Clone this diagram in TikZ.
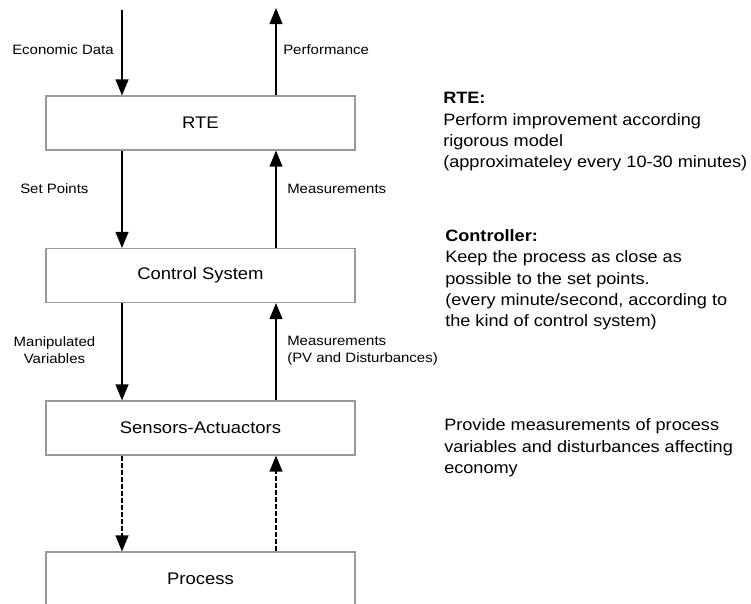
\documentclass[tikz,border=0pt]{standalone}
\usepackage{fontspec}
\setmainfont{Liberation Sans}[FakeStretch=1.1]
\usetikzlibrary{arrows.meta}
\begin{document}
\begin{tikzpicture}[x=0.75pt,y=-0.75pt,
  blk/.style={draw=black!40,line width=0.8pt,minimum width=231.75pt,minimum height=40.5pt,inner sep=0pt,font=\fontsize{12.6}{15}\selectfont},
  lbl/.style={inner sep=0pt,font=\fontsize{10.2}{12.75}\selectfont},
  note/.style={inner sep=0pt,align=left,font=\fontsize{12.35}{16}\selectfont},
  arr/.style={line width=1.5pt,-{Triangle[length=12pt,width=9.5pt]}},
  darr/.style={arr,dash pattern=on 3.75pt off 1.5pt}]
\useasboundingbox (0,0) rectangle (751,604);
\clip (0,0) rectangle (751,604);
\node[blk] (rte) at (200.5,123) {RTE};
\node[blk] (ctl) at (200.5,275.5) {Control System};
\node[blk] (sa) at (200.5,428) {Sensors-Actuactors};
\node[blk] (proc) at (200.5,579) {Process};
\coordinate (ein) at (122,10);
\coordinate (pout) at (276,8);
\coordinate (L) at (122,0);
\coordinate (R) at (276,0);
\draw[arr] (ein) -- (ein |- rte.north);
\draw[arr] (rte.north -| pout) -- (pout);
\draw[arr] (rte.south -| L) -- (ctl.north -| L);
\draw[arr] (ctl.north -| R) -- (rte.south -| R);
\draw[arr] (ctl.south -| L) -- (sa.north -| L);
\draw[arr] (sa.north -| R) -- (ctl.south -| R);
\draw[darr] (sa.south -| L) -- (proc.north -| L);
\draw[darr] (proc.north -| R) -- (sa.south -| R);
\node[lbl,anchor=west] (econ) at (12,50) {Economic Data};
\node[lbl,anchor=west] (perf) at (283,50) {Performance};
\node[lbl,anchor=west] (sp) at (20,189) {Set Points};
\node[lbl,anchor=west] (meas1) at (287,189) {Measurements};
\node[lbl,align=center] (mv) at (54.5,350.5) {Manipulated\\Variables};
\node[lbl,align=left,anchor=west] (meas2) at (287,350.5) {Measurements\\(PV and Disturbances)};
\node[note,anchor=west] (n1) at (443,132) {\textbf{RTE:}\\Perform improvement according\\rigorous model\\(approximateley every 10-30 minutes)};
\node[note,anchor=west] (n2) at (445,280) {\textbf{Controller:}\\Keep the process as close as\\possible to the set points.\\(every minute/second, according to\\the kind of control system)};
\node[note,anchor=west] (n3) at (444,448) {Provide measurements of process\\variables and disturbances affecting\\economy};
\end{tikzpicture}
\end{document}
